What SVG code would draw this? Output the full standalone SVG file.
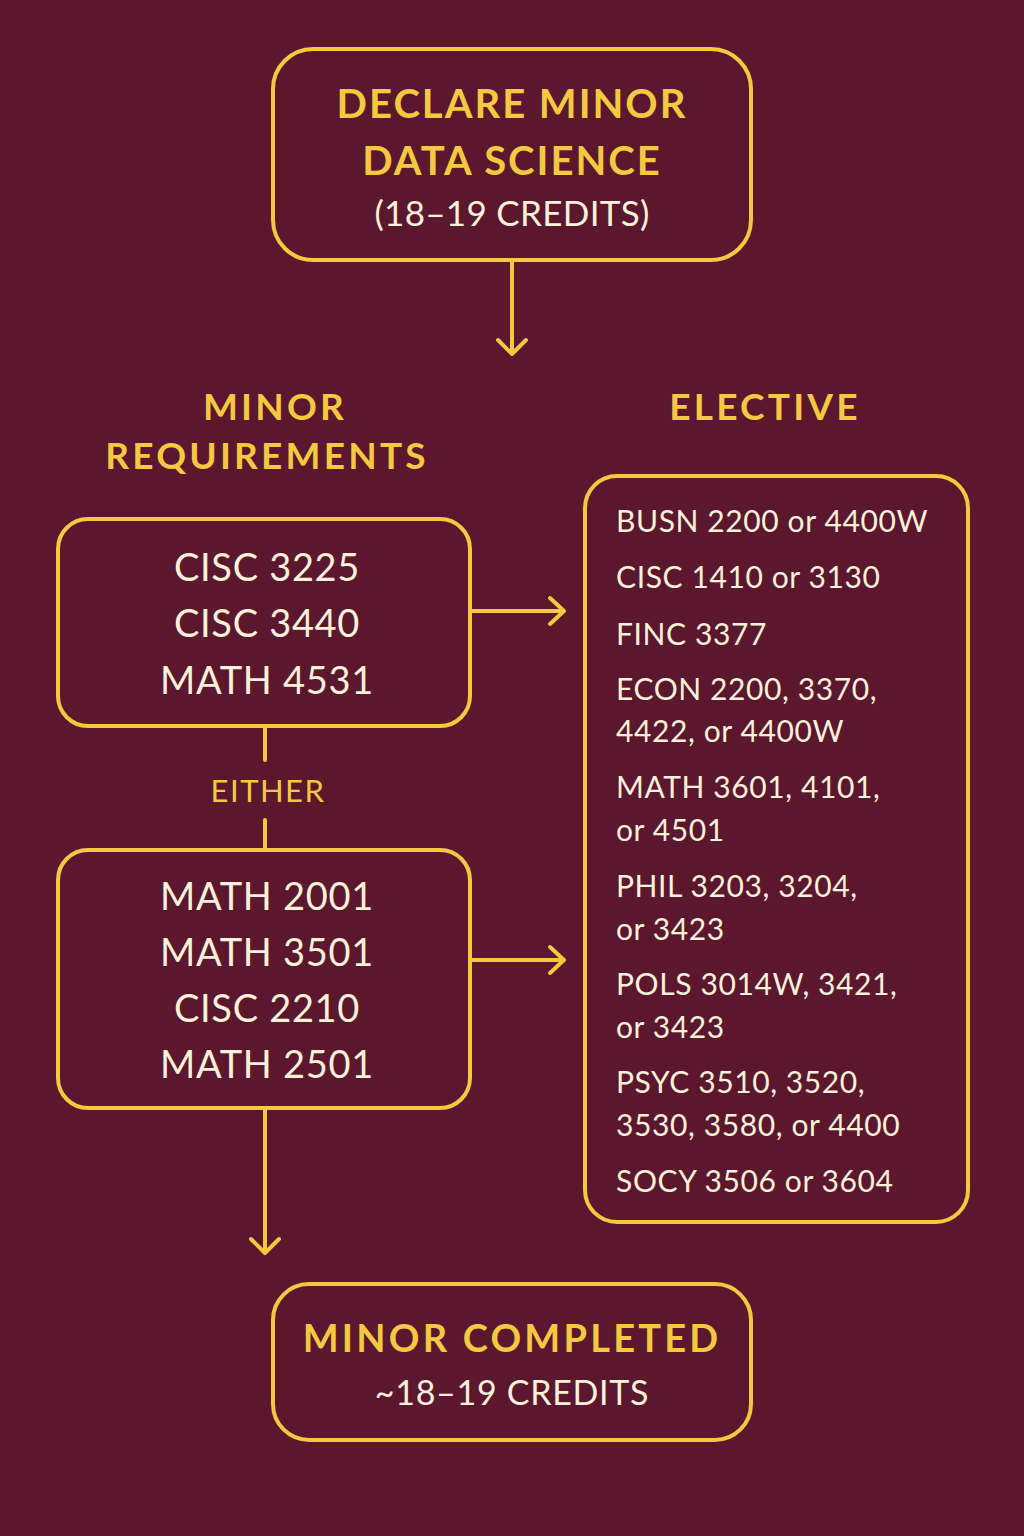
<svg xmlns="http://www.w3.org/2000/svg" width="1024" height="1536" viewBox="0 0 1024 1536">
<style>
.box{fill:#5A172D;stroke:#F5C842;stroke-width:4}
.conn{stroke:#F5C842;stroke-width:4;fill:none;stroke-linecap:round;stroke-linejoin:round}
.h{font-family:Lato,"Liberation Sans",sans-serif;font-weight:700;fill:#F5C842;text-anchor:middle;letter-spacing:2px}
.h3{letter-spacing:3.2px}
.c{font-family:Lato,"Liberation Sans",sans-serif;fill:#FBF0D8;text-anchor:middle;letter-spacing:0.7px}
.e{font-family:Lato,"Liberation Sans",sans-serif;fill:#FBF0D8;font-size:30px;letter-spacing:0.6px}
.g{font-family:Lato,"Liberation Sans",sans-serif;fill:#F5C842;text-anchor:middle;letter-spacing:1.5px}
</style>
<rect width="1024" height="1536" fill="#5A172D"/>
<g id="connectors" class="conn">
<path d="M512 262V354M498 340L512 354L526 340"/>
<path d="M472 611H564M550 598L564 611L550 624"/>
<path d="M265 728V760M265 820V850"/>
<path d="M472 960H564M550 947L564 960L550 973"/>
<path d="M265 1110V1253M251 1239L265 1253L279 1239"/>
</g>
<g id="declare">
<rect class="box" x="273" y="49" width="478" height="211" rx="40"/>
<text class="h" x="512" y="118" font-size="40">DECLARE MINOR</text>
<text class="h" x="512" y="175" font-size="40">DATA SCIENCE</text>
<text class="c" x="512" y="226" font-size="35" style="letter-spacing:0.3px">(18–19 CREDITS)</text>
</g>
<g id="minor-requirements-label">
<text class="h h3" x="275" y="420" font-size="37">MINOR</text>
<text class="h h3" x="267" y="469" font-size="37">REQUIREMENTS</text>
</g>
<g id="elective-label">
<text class="h h3" x="765" y="420" font-size="37">ELECTIVE</text>
</g>
<g id="core">
<rect class="box" x="58" y="519" width="412" height="207" rx="30"/>
<text class="c" x="267" y="581" font-size="38">CISC 3225</text>
<text class="c" x="267" y="637" font-size="38">CISC 3440</text>
<text class="c" x="267" y="694" font-size="38">MATH 4531</text>
</g>
<g id="either">
<text class="g" x="268" y="802" font-size="31">EITHER</text>
</g>
<g id="option">
<rect class="box" x="58" y="850" width="412" height="258" rx="30"/>
<text class="c" x="267" y="910" font-size="38">MATH 2001</text>
<text class="c" x="267" y="966" font-size="38">MATH 3501</text>
<text class="c" x="267" y="1022" font-size="38">CISC 2210</text>
<text class="c" x="267" y="1078" font-size="38">MATH 2501</text>
</g>
<g id="electives">
<rect class="box" x="585" y="476" width="383" height="746" rx="32"/>
<text class="e" x="616" y="532">BUSN 2200 or 4400W</text>
<text class="e" x="616" y="588">CISC 1410 or 3130</text>
<text class="e" x="616" y="645">FINC 3377</text>
<text class="e" x="616" y="700">ECON 2200, 3370,</text>
<text class="e" x="616" y="742">4422, or 4400W</text>
<text class="e" x="616" y="798">MATH 3601, 4101,</text>
<text class="e" x="616" y="841">or 4501</text>
<text class="e" x="616" y="897">PHIL 3203, 3204,</text>
<text class="e" x="616" y="940">or 3423</text>
<text class="e" x="616" y="995">POLS 3014W, 3421,</text>
<text class="e" x="616" y="1038">or 3423</text>
<text class="e" x="616" y="1093">PSYC 3510, 3520,</text>
<text class="e" x="616" y="1136">3530, 3580, or 4400</text>
<text class="e" x="616" y="1192">SOCY 3506 or 3604</text>
</g>
<g id="completed">
<rect class="box" x="273" y="1284" width="478" height="156" rx="36"/>
<text class="h h3" x="512" y="1352" font-size="38">MINOR COMPLETED</text>
<text class="c" x="512" y="1405" font-size="34">~18–19 CREDITS</text>
</g>
</svg>
